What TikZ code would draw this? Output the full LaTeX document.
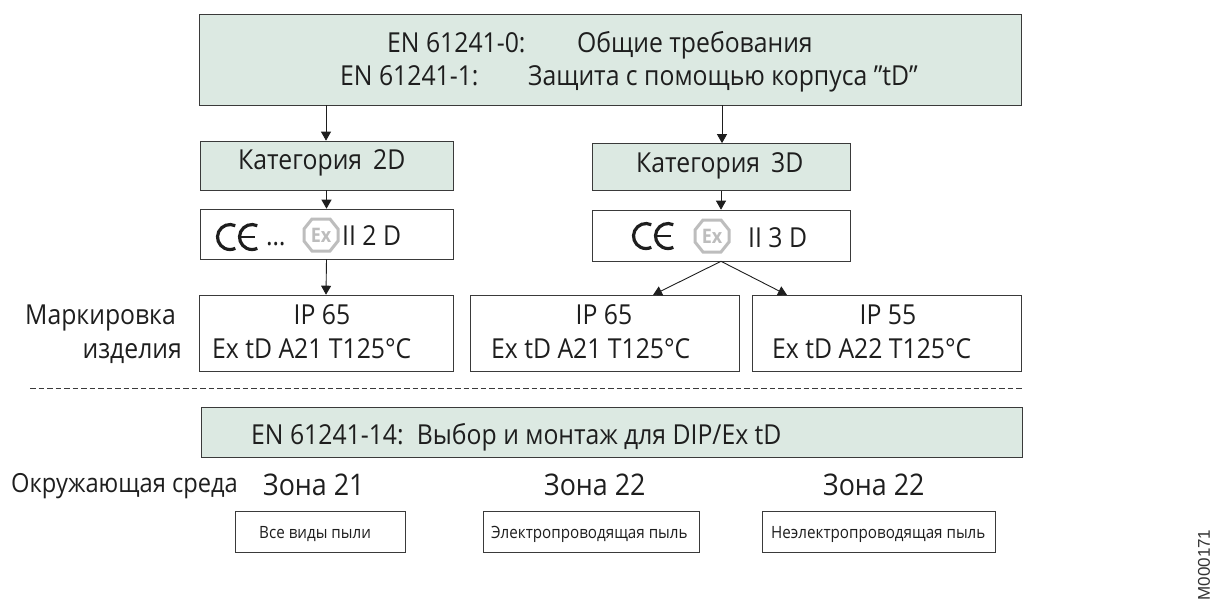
\documentclass[tikz,border=0pt]{standalone}
\usepackage{fontspec}
\setmainfont[FakeStretch=0.9]{Open Sans}
\newfontfamily\idfont{Liberation Sans}
\usetikzlibrary{arrows.meta}
\definecolor{gfill}{HTML}{DCE9E2}
\definecolor{ln}{HTML}{3A3A3A}
\definecolor{tx}{HTML}{1E1E1E}
\definecolor{exg}{HTML}{BDBDBD}
\tikzset{
 x=1pt,y=-1pt,
 every node/.style={text=tx,inner sep=0pt,align=center},
 gbox/.style={draw=ln,line width=.7pt,fill=gfill},
 wbox/.style={draw=ln,line width=.6pt,fill=white},
 conn/.style={draw=tx,line width=.9pt,-{Triangle[length=9pt,width=10pt]}},
 big/.style={font=\fontsize{27.5}{32}\selectfont},
 env/.style={font=\fontsize{26.3}{30}\selectfont},
 zone/.style={font=\fontsize{29.8}{34}\selectfont},
 small/.style={font=\fontsize{16.9}{20}\selectfont},
 cemark/.pic={
   \draw[tx,line width=3.2pt] (19.3,-11.3) arc[start angle=-65,end angle=-295,radius=12.5];
   \draw[tx,line width=3.2pt] (41.3,-11.3) arc[start angle=-65,end angle=-295,radius=12.5];
   \draw[tx,line width=2.4pt] (25,0) -- (39,0);
 },
 exmark/.pic={
   \draw[exg,line width=3pt,fill=white] (-9,-16)--(9,-16)--(17,-6)--(17,6)--(9,16)--(-9,16)--(-17,6)--(-17,-6)--cycle;
   \node[text=exg,font=\fontsize{20}{20}\selectfont\bfseries] at (0,0) {Ex};
 }
}
\begin{document}
\begin{tikzpicture}
\useasboundingbox (0,0) rectangle (1216,600);
\path[gbox] (199,14) rectangle (1021,105);
\node[big,anchor=base west] (t1a) at (387,52) {EN 61241-0:};
\node[big,anchor=base west] (t1b) at (577,52) {Общие требования};
\node[big,anchor=base west] (t2a) at (340,85) {EN 61241-1:};
\node[big,anchor=base west] (t2b) at (528,85) {Защита с помощью корпуса "tD"};
\coordinate (topL) at (326,105);
\coordinate (topR) at (722,105);

\node[gbox,minimum width=253pt,minimum height=49pt] (k2) at (326.5,165.5) {};
\node[big,anchor=base west] at (238,169) {Категория\, 2D};
\node[gbox,minimum width=258pt,minimum height=47pt] (k3) at (721,167) {};
\node[big,anchor=base west] at (636,172) {Категория\, 3D};

\node[wbox,minimum width=253pt,minimum height=50pt] (m2) at (326.5,234) {};
\node[wbox,minimum width=258pt,minimum height=51pt] (m3) at (721,235.5) {};
\pic at (216,237) {cemark};
\node[big,anchor=base west] (dots2) at (266,245) {\dots};
\pic at (321,235) {exmark};
\node[big,anchor=base west] (ii2) at (342,245) {II 2 D};
\pic at (632,236) {cemark};
\pic at (712,236) {exmark};
\node[big,anchor=base west] (ii3) at (748,247) {II 3 D};

\node[wbox,minimum width=254pt,minimum height=76pt] (a) at (326,333) {};
\node[wbox,minimum width=269pt,minimum height=76pt] (b) at (604.5,333) {};
\node[wbox,minimum width=269pt,minimum height=76pt] (c) at (886.5,333) {};
\node[big,anchor=base] (a1) at (322,324) {IP 65};
\node[big,anchor=base west] (a2) at (212,358) {Ex tD A21 T125°C};
\node[big,anchor=base] (b1) at (604,324) {IP 65};
\node[big,anchor=base west] (b2) at (491,358) {Ex tD A21 T125°C};
\node[big,anchor=base] (c1) at (888,324) {IP 55};
\node[big,anchor=base west] (c2) at (772,358) {Ex tD A22 T125°C};
\node[big,anchor=base west] (mark) at (25,324) {Маркировка};
\node[big,anchor=base east] (mark2) at (182,358) {изделия};

\draw[conn] (topL) -- (k2.north -| topL);
\draw[conn] (topR) -- (k3.north -| topR);
\draw[conn] (k2.south) -- (m2.north);
\draw[conn] (k3.south) -- (m3.north);
\draw[conn] (m2.south) -- (a.north);
\draw[conn] (m3.south) -- (653,295);
\draw[conn] (m3.south) -- (787,295);

\coordinate (d1) at (30,388);
\coordinate (d2) at (1022,388);
\draw[ln,line width=.9pt,dash pattern=on 5.5pt off 3pt] (d1) -- (d2);

\node[gbox,minimum width=821pt,minimum height=50pt] (en) at (611.5,432) {};
\node[big,anchor=base west] (ent) at (251,444) {EN 61241-14:\, Выбор и монтаж для DIP/Ex tD};

\node[env,anchor=base west] (envt) at (11,492) {Окружающая среда};
\node[zone,anchor=base west] (z1) at (263,495) {Зона 21};
\node[zone,anchor=base west] (z2) at (544,495) {Зона 22};
\node[zone,anchor=base west] (z3) at (823,495) {Зона 22};

\node[wbox,minimum width=170pt,minimum height=41pt] (s1) at (320.5,531.5) {};
\node[small,anchor=base west] at (259,538) {Все виды пыли};
\node[wbox,minimum width=216pt,minimum height=41pt] (s2) at (591.5,531.5) {};
\node[small,anchor=base west] at (491,538) {Электропроводящая пыль};
\node[wbox,minimum width=233pt,minimum height=41pt] (s3) at (878.5,531.5) {};
\node[small,anchor=base west] at (771,538) {Неэлектропроводящая пыль};

\node[rotate=90,font=\idfont\fontsize{17}{20}\selectfont,text=black!80] (id) at (1204,565) {M000171};
\end{tikzpicture}
\end{document}
